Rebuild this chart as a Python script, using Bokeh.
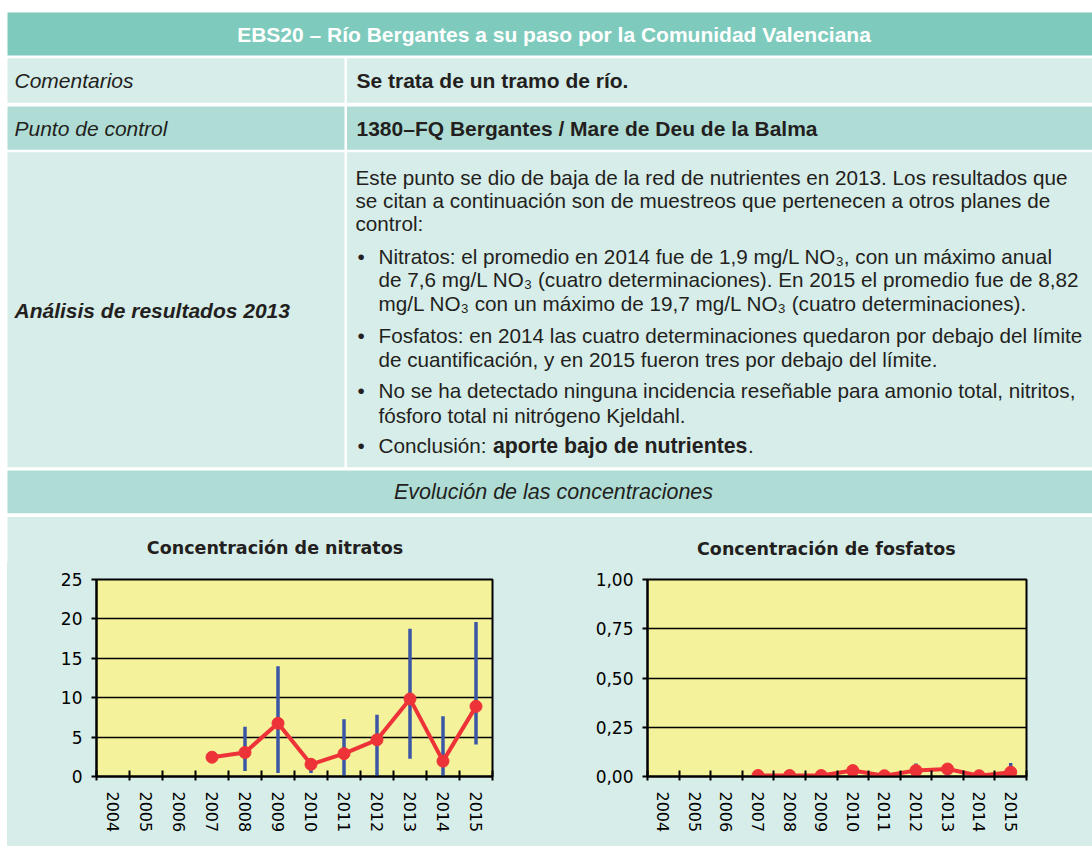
import numpy as np
from bokeh.plotting import figure
from bokeh.layouts import column, row
from bokeh.models import Range1d, FixedTicker, CustomJSTickFormatter, ColumnDataSource, Spacer
from bokeh.core.properties import value
from bokeh.embed import file_html
from bokeh.resources import INLINE

nan = np.nan

# ---------------- data ----------------
years = ["2004", "2005", "2006", "2007", "2008", "2009", "2010", "2011", "2012", "2013", "2014", "2015"]

nitrate_mean = [nan, nan, nan, 2.45, 3.05, 6.75, 1.55, 2.9, 4.65, 9.85, 1.95, 8.9]
nitrate_min = [nan, nan, nan, nan, 0.7, 0.45, 0.45, 0.0, 0.0, 2.25, 0.0, 4.05]
nitrate_max = [nan, nan, nan, nan, 6.3, 14.0, 1.8, 7.25, 7.85, 18.75, 7.65, 19.6]
nitrate_ticks = [0, 5, 10, 15, 20, 25]

phosphate_mean = [nan, nan, nan, 0.005, 0.005, 0.005, 0.03, 0.004, 0.03, 0.038, 0.004, 0.022]
phosphate_min = [nan, nan, nan, nan, nan, nan, nan, nan, 0.0, 0.0, nan, 0.005]
phosphate_max = [nan, nan, nan, nan, nan, nan, nan, nan, 0.066, 0.045, nan, 0.068]
phosphate_ticks = [0, 0.25, 0.5, 0.75, 1.0]

table_title = "EBS20 – Río Bergantes a su paso por la Comunidad Valenciana"
row_labels = ["Comentarios", "Punto de control"]
row_values = ["Se trata de un tramo de río.", "1380–FQ Bergantes / Mare de Deu de la Balma"]
analysis_label = "Análisis de resultados 2013"
intro_lines = [
    "Este punto se dio de baja de la red de nutrientes en 2013. Los resultados que",
    "se citan a continuación son de muestreos que pertenecen a otros planes de",
    "control:",
]
bullet_lines = [
    "Nitratos: el promedio en 2014 fue de 1,9 mg/L NO₃, con un máximo anual",
    "de 7,6 mg/L NO₃ (cuatro determinaciones). En 2015 el promedio fue de 8,82",
    "mg/L NO₃ con un máximo de 19,7 mg/L NO₃ (cuatro determinaciones).",
    "Fosfatos: en 2014 las cuatro determinaciones quedaron por debajo del límite",
    "de cuantificación, y en 2015 fueron tres por debajo del límite.",
    "No se ha detectado ninguna incidencia reseñable para amonio total, nitritos,",
    "fósforo total ni nitrógeno Kjeldahl.",
    "Conclusión: ",
]
conclusion_bold = "aporte bajo de nutrientes"
section_title = "Evolución de las concentraciones"
chart_titles = ["Concentración de nitratos", "Concentración de fosfatos"]

# ---------------- styles ----------------
HEAD = "#7ecbbd"
LIGHT = "#d7ede9"
MED = "#afddd5"
YELLOW = "#f4f29b"
RED = "#ee3338"
BLUE = "#3c56a6"
INK = "#231f20"
SANS = value("Liberation Sans")

W, H = 1092, 846
TOP_H = 562   # table + chart titles

# ---------------- table (upper part) ----------------
t = figure(width=W, height=TOP_H, x_range=Range1d(0, W), y_range=Range1d(TOP_H, 0),
           x_axis_type=None, y_axis_type=None, toolbar_location=None, output_backend="svg",
           min_border=0, outline_line_color=None, background_fill_color="white",
           border_fill_color="white")

cells = dict(
    left=[7, 7, 346.5, 7, 346.5, 7, 346.5, 7, 7],
    right=[1100, 344, 1100, 344, 1100, 344, 1100, 1100, 1100],
    top=[12, 57.7, 57.7, 106, 106, 151.7, 151.7, 470, 516.5],
    bottom=[55, 102.3, 102.3, 149.3, 149.3, 466.7, 466.7, 512.7, 600],
    color=[HEAD, LIGHT, LIGHT, MED, MED, LIGHT, LIGHT, MED, LIGHT],
)
t.quad(left="left", right="right", top="top", bottom="bottom", fill_color="color",
       line_color=None, source=ColumnDataSource(cells))

t.text(x=[553.5], y=[33.5], text=[table_title], text_font=SANS, text_font_size="21px",
       text_font_style="bold", text_color="white", text_align="center", text_baseline="middle")
t.text(x=[14, 14], y=[80, 127.5], text=row_labels, text_font=SANS, text_font_size="21px",
       text_font_style="italic", text_color=INK, text_baseline="middle")
t.text(x=[356, 356], y=[80, 127.5], text=row_values, text_font=SANS, text_font_size="21px",
       text_font_style="bold", text_color=INK, text_baseline="middle")
t.text(x=[14], y=[310], text=[analysis_label], text_font=SANS, text_font_size="21px",
       text_font_style="bold italic", text_color=INK, text_baseline="middle")

intro_y = [176.7, 200, 223.3]
t.text(x=[355] * 3, y=intro_y, text=intro_lines, text_font=SANS, text_font_size="20.7px",
       text_color=INK, text_baseline="middle")
bullet_y = [256, 279.3, 303, 335, 359, 390, 415, 445]
t.text(x=[378] * len(bullet_lines), y=bullet_y, text=bullet_lines, text_font=SANS,
       text_font_size="20.7px", text_color=INK, text_baseline="middle")
t.text(x=[357] * 4, y=[256, 335, 390, 445], text=["•"] * 4, text_font=SANS,
       text_font_size="20.7px", text_color=INK, text_baseline="middle")
t.text(x=[492.5], y=[445], text=[conclusion_bold], text_font=SANS, text_font_size="21.3px",
       text_font_style="bold", text_color=INK, text_baseline="middle")
t.text(x=[747.5], y=[445], text=["."], text_font=SANS, text_font_size="20.7px",
       text_color=INK, text_baseline="middle")

t.text(x=[553], y=[491.5], text=[section_title], text_font=SANS, text_font_size="21.5px",
       text_font_style="italic", text_color=INK, text_align="center", text_baseline="middle")

# chart titles (sit above each chart)
t.text(x=[274.5, 825.8], y=[547, 548], text=chart_titles, text_font=value("DejaVu Sans"),
       text_font_size="17.5px", text_font_style="bold", text_color=INK,
       text_align="center", text_baseline="middle")


# ---------------- charts ----------------
def make_chart(mean, lo, hi, y_end, ticks, y_fmt_code, width, left, right, top, bottom):
    p = figure(width=width, height=H - TOP_H, x_range=Range1d(0, len(years)),
               y_range=Range1d(0, y_end), toolbar_location=None, output_backend="svg",
               title=None,
               min_border_left=left, min_border_right=right, min_border_top=top,
               min_border_bottom=bottom, background_fill_color=YELLOW, border_fill_color=LIGHT,
               outline_line_color="black", outline_line_width=2)

    xa = p.xaxis[0]
    xa.ticker = FixedTicker(ticks=[i + 0.5 for i in range(len(years))],
                            minor_ticks=list(range(len(years) + 1)))
    xa.formatter = CustomJSTickFormatter(args=dict(labels=years),
                                         code="return labels[Math.floor(tick)] || '';")
    xa.major_label_orientation = "vertical"
    xa.major_tick_in = 0
    xa.major_tick_out = 0
    xa.major_tick_line_color = None
    xa.minor_tick_in = 6
    xa.minor_tick_out = 4
    xa.minor_tick_line_width = 2
    xa.minor_tick_line_color = "black"
    xa.axis_line_width = 2
    xa.axis_line_color = "black"
    xa.major_label_standoff = 11
    xa.major_label_text_font = "DejaVu Sans"
    xa.major_label_text_font_size = "16px"
    xa.major_label_text_color = "black"

    ya = p.yaxis[0]
    ya.ticker = FixedTicker(ticks=ticks)
    if y_fmt_code:
        ya.formatter = CustomJSTickFormatter(code=y_fmt_code)
    ya.major_tick_in = 0
    ya.major_tick_out = 5
    ya.major_tick_line_width = 2
    ya.major_tick_line_color = "black"
    ya.minor_tick_line_color = None
    ya.axis_line_width = 2
    ya.axis_line_color = "black"
    ya.major_label_standoff = 9
    ya.major_label_text_font = "DejaVu Sans"
    ya.major_label_text_font_size = "17px"
    ya.major_label_text_color = "black"

    p.xgrid.visible = False
    p.ygrid.ticker = FixedTicker(ticks=ticks)
    p.ygrid.grid_line_color = "black"
    p.ygrid.grid_line_width = 1.6

    src = ColumnDataSource(dict(
        x=np.array([i + 0.5 for i in range(len(years))]),
        mean=np.array(mean, dtype=float),
        lo=np.array(lo, dtype=float),
        hi=np.array(hi, dtype=float),
    ))
    p.segment(x0="x", y0="lo", x1="x", y1="hi", source=src, line_color=BLUE, line_width=3.5)
    p.line("x", "mean", source=src, line_color=RED, line_width=4)
    p.scatter("x", "mean", source=src, size=12, fill_color=RED, line_color=RED)
    return p


p1 = make_chart(nitrate_mean, nitrate_min, nitrate_max, 25, nitrate_ticks, None,
                width=539, left=89, right=54, top=14, bottom=70)
p2 = make_chart(phosphate_mean, phosphate_min, phosphate_max, 1.0, phosphate_ticks,
                "return tick.toFixed(2).replace('.', ',');",
                width=546, left=101, right=66, top=17, bottom=67)

pad = Spacer(width=7, height=H - TOP_H, styles={"background-color": "white"})
bottom_row = row(pad, p1, p2, spacing=0, styles={"background-color": LIGHT})
layout = column(t, bottom_row, spacing=0)
open("out.html", "w").write(file_html(layout, INLINE))
